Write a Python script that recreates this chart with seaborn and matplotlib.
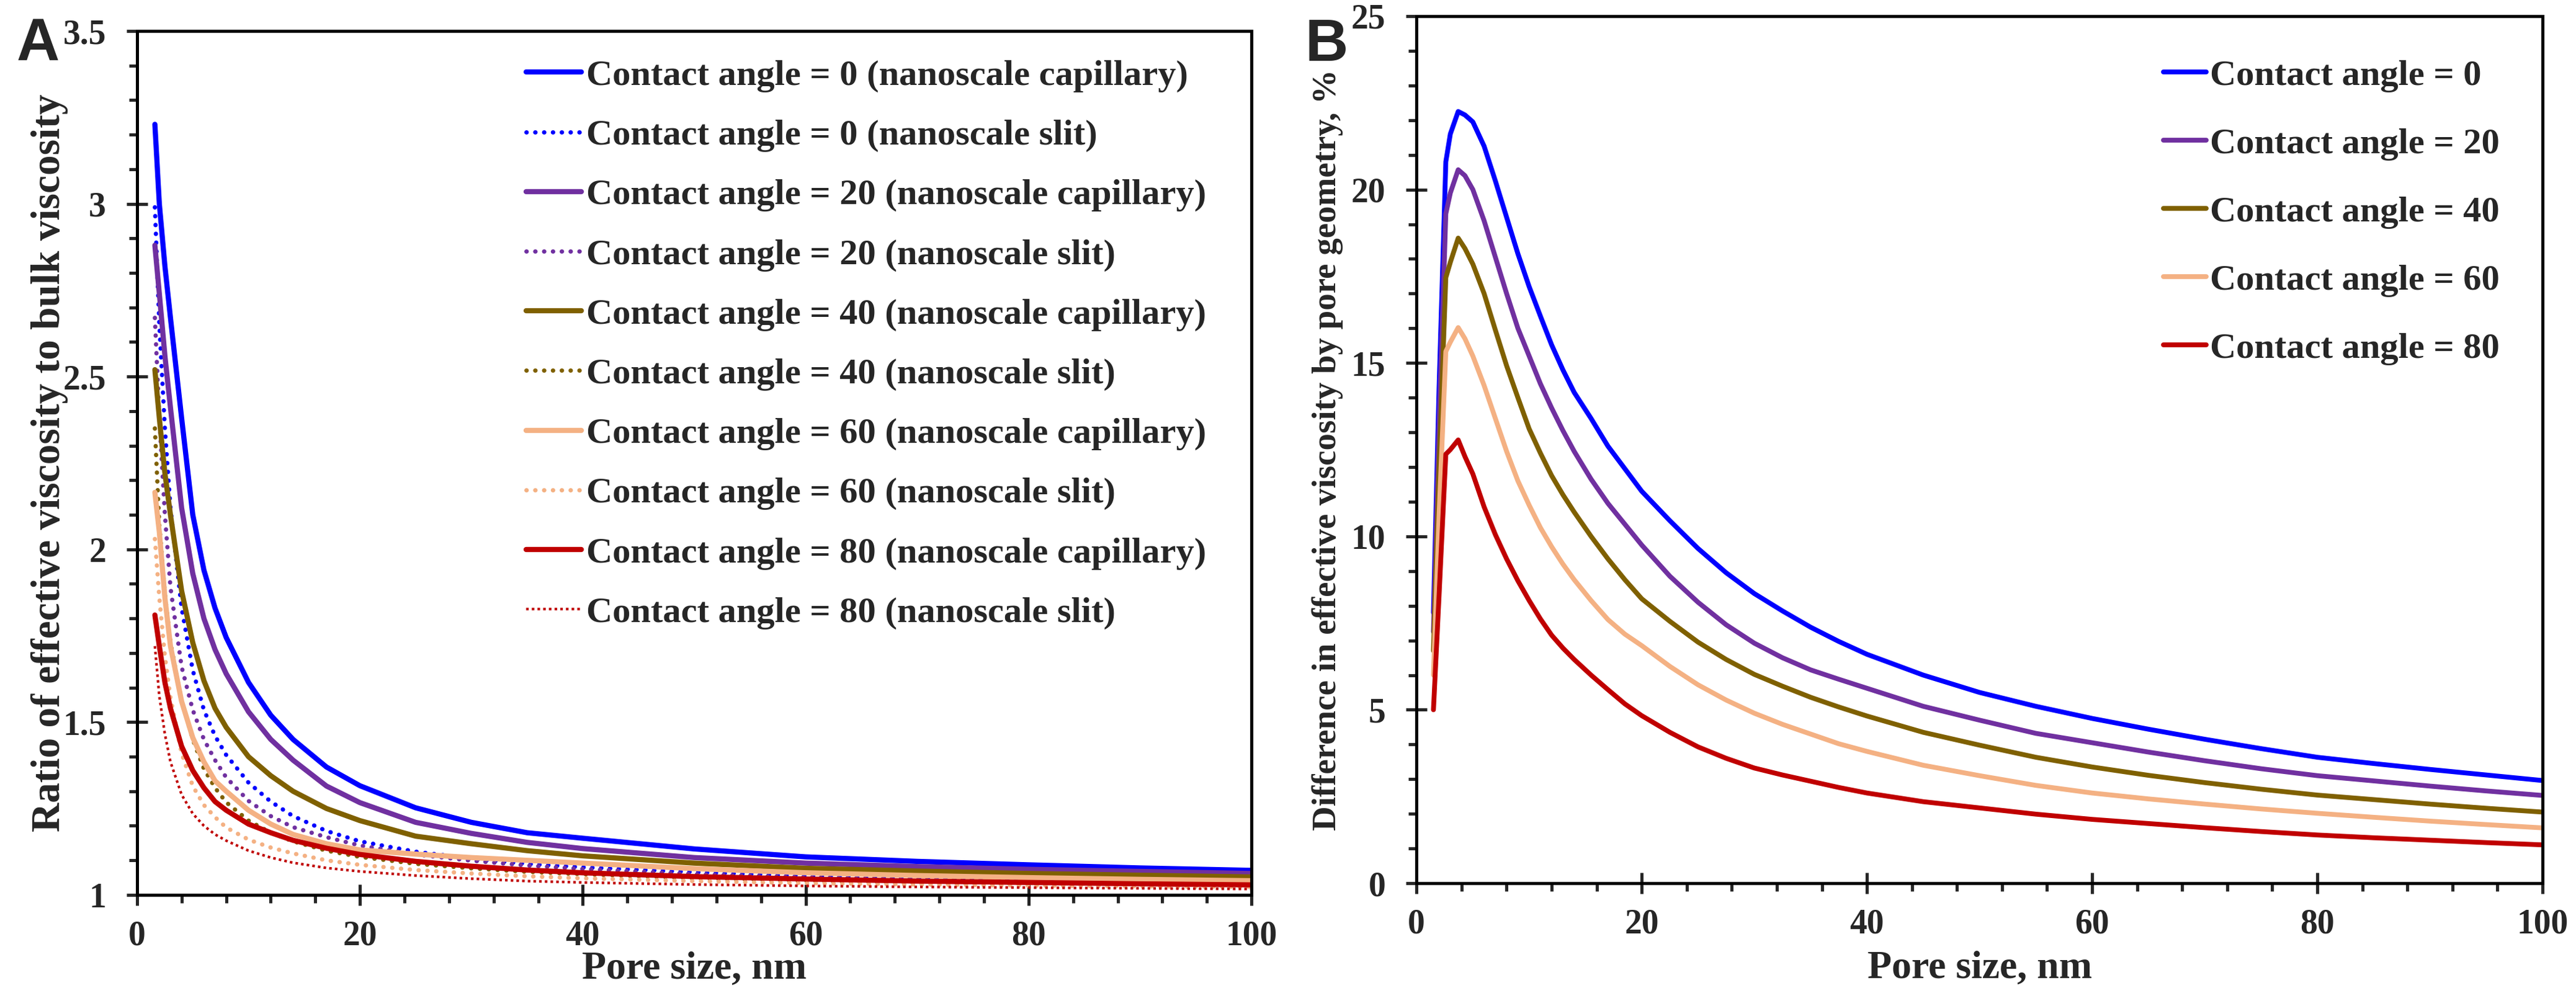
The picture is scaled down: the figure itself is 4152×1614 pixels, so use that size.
import numpy as np
import pandas as pd
import matplotlib
matplotlib.use("Agg")
import matplotlib.pyplot as plt
import seaborn as sns
from matplotlib.ticker import MultipleLocator, FuncFormatter

# ---- panel A : ratio of effective viscosity to bulk viscosity ----
pore_a = [1.6, 2, 2.5, 3, 4, 5, 6, 7, 8, 10, 12, 14, 17, 20, 25, 30, 35, 40, 50, 60, 70, 80, 90, 100]

cap_0 = [3.23, 3.00, 2.82, 2.67, 2.38, 2.10, 1.94, 1.83, 1.745, 1.615, 1.52, 1.45, 1.37, 1.316,
         1.252, 1.21, 1.18, 1.164, 1.133, 1.110, 1.097, 1.087, 1.078, 1.071]
slit_0 = [2.99, 2.65, 2.35, 2.12, 1.83, 1.65, 1.535, 1.46, 1.405, 1.325, 1.27, 1.228, 1.185, 1.155,
          1.125, 1.105, 1.09, 1.08, 1.066, 1.055, 1.048, 1.042, 1.038, 1.034]
cap_20 = [2.88, 2.74, 2.56, 2.41, 2.12, 1.93, 1.80, 1.71, 1.64, 1.53, 1.45, 1.39, 1.315, 1.267,
          1.21, 1.178, 1.152, 1.134, 1.108, 1.092, 1.082, 1.074, 1.068, 1.062]
slit_20 = [2.67, 2.38, 2.10, 1.89, 1.66, 1.535, 1.45, 1.39, 1.34, 1.272, 1.228, 1.196, 1.167, 1.143,
           1.117, 1.099, 1.085, 1.075, 1.060, 1.050, 1.043, 1.037, 1.034, 1.031]
cap_40 = [2.52, 2.38, 2.22, 2.10, 1.88, 1.73, 1.62, 1.54, 1.485, 1.40, 1.345, 1.30, 1.25, 1.215,
          1.17, 1.148, 1.128, 1.113, 1.092, 1.077, 1.069, 1.062, 1.057, 1.052]
slit_40 = [2.35, 2.07, 1.87, 1.73, 1.56, 1.45, 1.365, 1.31, 1.268, 1.215, 1.18, 1.155, 1.128, 1.11,
           1.09, 1.077, 1.067, 1.06, 1.049, 1.041, 1.036, 1.032, 1.030, 1.028]
cap_60 = [2.165, 2.05, 1.86, 1.72, 1.56, 1.455, 1.385, 1.33, 1.30, 1.245, 1.205, 1.175, 1.148, 1.13,
          1.118, 1.108, 1.10, 1.092, 1.076, 1.064, 1.056, 1.050, 1.045, 1.041]
slit_60 = [2.03, 1.86, 1.69, 1.57, 1.41, 1.315, 1.26, 1.225, 1.195, 1.16, 1.137, 1.12, 1.10, 1.087,
           1.072, 1.062, 1.054, 1.048, 1.040, 1.034, 1.030, 1.027, 1.025, 1.023]
cap_80 = [1.81, 1.72, 1.615, 1.54, 1.43, 1.36, 1.31, 1.27, 1.245, 1.205, 1.18, 1.158, 1.135, 1.117,
          1.097, 1.083, 1.072, 1.064, 1.053, 1.046, 1.040, 1.036, 1.032, 1.029]
slit_80 = [1.72, 1.575, 1.465, 1.385, 1.29, 1.235, 1.20, 1.175, 1.157, 1.128, 1.108, 1.093, 1.078, 1.068,
           1.056, 1.047, 1.040, 1.036, 1.030, 1.026, 1.023, 1.021, 1.019, 1.017]

# ---- panel B : difference by pore geometry, % ----
pore_b = [1.5, 2.0, 2.6, 3.0, 3.7, 4.3, 5, 6, 7, 8, 9, 10, 11, 12, 13, 14, 15.5, 17, 18.5, 20,
          22.5, 25, 27.5, 30, 32.5, 35, 37.5, 40, 45, 50, 55, 60, 65, 70, 75, 80, 85, 90, 95, 100]

diff_0 = [7.8, 14.3, 20.8, 21.6, 22.25, 22.15, 21.95, 21.25, 20.25, 19.2, 18.15, 17.2, 16.35, 15.52,
          14.8, 14.15, 13.4, 12.6, 11.95, 11.3, 10.45, 9.65, 8.95, 8.35, 7.85, 7.38, 6.97, 6.6,
          6.0, 5.5, 5.1, 4.75, 4.44, 4.15, 3.88, 3.63, 3.45, 3.28, 3.12, 2.96]
diff_20 = [7.25, 13.2, 19.3, 19.9, 20.57, 20.4, 20.0, 19.1, 18.05, 17.0, 16.0, 15.2, 14.4, 13.7,
           13.05, 12.45, 11.65, 10.95, 10.35, 9.75, 8.85, 8.1, 7.45, 6.92, 6.5, 6.15, 5.88, 5.62,
           5.1, 4.7, 4.32, 4.05, 3.78, 3.53, 3.3, 3.10, 2.95, 2.8, 2.66, 2.53]
diff_40 = [6.7, 12.0, 17.46, 17.9, 18.6, 18.3, 17.85, 17.0, 15.95, 14.92, 14.0, 13.1, 12.4, 11.75,
           11.2, 10.7, 10.0, 9.35, 8.75, 8.2, 7.55, 6.95, 6.45, 6.02, 5.68, 5.36, 5.08, 4.82,
           4.35, 3.98, 3.63, 3.35, 3.11, 2.9, 2.71, 2.54, 2.41, 2.28, 2.16, 2.05]
diff_60 = [6.0, 10.6, 15.33, 15.6, 16.02, 15.7, 15.2, 14.35, 13.4, 12.45, 11.6, 10.9, 10.25, 9.7,
           9.2, 8.75, 8.15, 7.6, 7.18, 6.85, 6.25, 5.72, 5.28, 4.9, 4.58, 4.3, 4.02, 3.8,
           3.4, 3.1, 2.82, 2.6, 2.43, 2.28, 2.14, 2.015, 1.9, 1.79, 1.69, 1.595]
diff_80 = [5.0, 8.3, 12.37, 12.5, 12.78, 12.3, 11.8, 10.85, 10.05, 9.35, 8.72, 8.15, 7.62, 7.15,
           6.78, 6.45, 6.0, 5.58, 5.17, 4.83, 4.35, 3.93, 3.6, 3.32, 3.12, 2.94, 2.76, 2.6,
           2.35, 2.17, 1.99, 1.84, 1.72, 1.6, 1.49, 1.39, 1.31, 1.24, 1.17, 1.105]

angles = [0, 20, 40, 60, 80]
colors = ["#0000FF", "#7030A0", "#7F6000", "#F4B183", "#C00000"]

sns.set_style("ticks")
plt.rcParams["font.family"] = ["Liberation Serif", "DejaVu Serif"]
plt.rcParams["font.weight"] = "bold"

fig = plt.figure(figsize=(41.52, 16.14), dpi=100)
ax1 = fig.add_axes([0.0532, 0.106, 0.4326, 0.863])
ax2 = fig.add_axes([0.5499, 0.1177, 0.4371, 0.8662])

# panel A curves
cap_list = [cap_0, cap_20, cap_40, cap_60, cap_80]
slit_list = [slit_0, slit_20, slit_40, slit_60, slit_80]
for ang, col, cap, slit in zip(angles, colors, cap_list, slit_list):
    sns.lineplot(x=pore_a, y=cap, ax=ax1, color=col, linewidth=6,
                 label=f"Contact angle = {ang} (nanoscale capillary)", estimator=None)
    ax1.lines[-1].set_solid_capstyle("round")
    if ang == 80:
        sns.lineplot(x=pore_a, y=slit, ax=ax1, color=col, linewidth=3,
                     label=f"Contact angle = {ang} (nanoscale slit)", estimator=None)
        ln = ax1.lines[-1]
        ln.set_dashes((1.0, 1.2))
        ln.set_dash_capstyle("butt")
    else:
        sns.lineplot(x=pore_a, y=slit, ax=ax1, color=col, linewidth=5,
                     label=f"Contact angle = {ang} (nanoscale slit)", estimator=None)
        ln = ax1.lines[-1]
        ln.set_dashes((0.05, 2.0))
        ln.set_dash_capstyle("round")

# panel B curves
diff_list = [diff_0, diff_20, diff_40, diff_60, diff_80]
for ang, col, d in zip(angles, colors, diff_list):
    sns.lineplot(x=pore_b, y=d, ax=ax2, color=col, linewidth=5.6,
                 label=f"Contact angle = {ang}", estimator=None)
    ax2.lines[-1].set_solid_capstyle("round")
    ax2.lines[-1].set_solid_joinstyle("round")

fmt = FuncFormatter(lambda v, _: f"{v:g}")
for ax in (ax1, ax2):
    ax.set_xlim(0, 100)
    ax.xaxis.set_major_locator(MultipleLocator(20))
    ax.xaxis.set_minor_locator(MultipleLocator(4))
    ax.tick_params(which="major", direction="inout", length=24, width=3.6, labelsize=40)
    ax.tick_params(which="minor", direction="out", length=9.5, width=3.6)
    ax.tick_params(axis="y", which="major", pad=24)
    ax.tick_params(axis="x", which="major", pad=17)
    ax.yaxis.set_major_formatter(fmt)
    for sp in ax.spines.values():
        sp.set_linewidth(3.6)
        sp.set_color("black")
    for lab in ax.get_xticklabels() + ax.get_yticklabels():
        lab.set_fontweight("bold")

ax1.set_ylim(1, 3.5)
ax1.yaxis.set_major_locator(MultipleLocator(0.5))
ax1.yaxis.set_minor_locator(MultipleLocator(0.1))
ax2.set_ylim(0, 25)
ax2.yaxis.set_major_locator(MultipleLocator(5))
ax2.yaxis.set_minor_locator(MultipleLocator(1))

ax1.set_xlabel("Pore size, nm", fontsize=46, fontweight="bold", va="top")
ax1.set_ylabel("Ratio of effective viscosity to bulk viscosity", fontsize=47, fontweight="bold")
ax1.xaxis.set_label_coords(0.5, -0.065)
ax1.yaxis.set_label_coords(-0.062, 0.5)

ax2.set_xlabel("Pore size, nm", fontsize=46, fontweight="bold", va="top")
ax2.set_ylabel("Difference in effective viscosity by pore geometry, %", fontsize=39.5, fontweight="bold")
ax2.xaxis.set_label_coords(0.5, -0.078)
ax2.yaxis.set_label_coords(-0.065, 0.5)

ax1.legend(loc="upper left", bbox_to_anchor=(0.349, 0.967), frameon=False,
           prop={"size": 42, "weight": "bold"}, handlelength=1.53, handletextpad=0.14,
           labelspacing=0.74, borderpad=0, borderaxespad=0)
ax2.legend(loc="upper left", bbox_to_anchor=(0.6634, 0.95), frameon=False,
           prop={"size": 42, "weight": "bold"}, handlelength=1.18, handletextpad=0.1,
           labelspacing=0.98, borderpad=0, borderaxespad=0)

fig.text(27 / 4152, 1 - 97 / 1614, "A", fontsize=69, fontweight="bold",
         family=["Liberation Sans", "DejaVu Sans"], ha="left", va="baseline")
fig.text(2104 / 4152, 1 - 98 / 1614, "B", fontsize=69, fontweight="bold",
         family=["Liberation Sans", "DejaVu Sans"], ha="left", va="baseline")

fig.savefig("out.png", dpi=100, facecolor="white")
